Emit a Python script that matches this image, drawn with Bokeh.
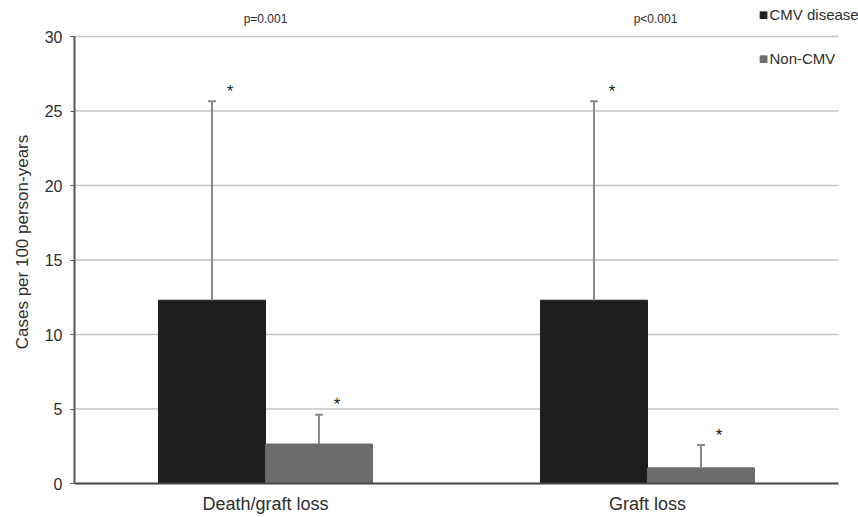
from bokeh.plotting import figure
from bokeh.models import Range1d, Label, ColumnDataSource, FixedTicker
from bokeh.core.properties import value
from bokeh.embed import file_html
from bokeh.resources import INLINE

categories = ["Death/graft loss", "Graft loss"]
cmv_values = [12.3, 12.3]
cmv_upper = [25.65, 25.65]
noncmv_values = [2.65, 1.05]
noncmv_upper = [4.62, 2.58]
p_values = ["p=0.001", "p<0.001"]
series_names = ["CMV disease", "Non-CMV"]
y_ticks = [0, 5, 10, 15, 20, 25, 30]

CMV_COLOR = "#1e1e1e"
NON_COLOR = "#6c6c6c"
ERR_COLOR = "#8a8a8a"
TEXT_COLOR = "#2e2e2e"
FONT = "Liberation Sans"
W = 0.28

n = len(categories)
centres = [i + 0.5 for i in range(n)]
y_max = y_ticks[-1]

# frame fills the figure above/right so texts there are not clipped;
# axis/grid extents are limited to the data area via bounds / segments
p = figure(x_range=Range1d(0, n * 784 / 764), y_range=Range1d(0, y_max * 483 / 447),
           width=858, height=517, output_backend="svg", toolbar_location=None,
           min_border_left=74, min_border_right=0, min_border_top=0, min_border_bottom=34)
p.outline_line_color = None
p.xgrid.grid_line_color = None
p.ygrid.grid_line_color = None

src = ColumnDataSource(dict(xc=centres,
                            x_cmv=[c - W / 2 for c in centres],
                            x_non=[c + W / 2 for c in centres],
                            cmv=cmv_values, cmv_up=cmv_upper,
                            non=noncmv_values, non_up=noncmv_upper))

# horizontal gridlines across the category area
grid_src = ColumnDataSource(dict(y=y_ticks[1:], x0=[0] * (len(y_ticks) - 1),
                                 x1=[n] * (len(y_ticks) - 1)))
p.segment(x0="x0", x1="x1", y0="y", y1="y", source=grid_src,
          line_color="#c4c4c4", line_width=1.5)

# bars
p.vbar(x="x_cmv", top="cmv", width=W, source=src, fill_color=CMV_COLOR, line_color=CMV_COLOR)
p.vbar(x="x_non", top="non", width=W, source=src, fill_color=NON_COLOR, line_color=NON_COLOR)

# error bars and asterisks
for xs, v, up in [("x_cmv", "cmv", "cmv_up"), ("x_non", "non", "non_up")]:
    p.segment(x0=xs, y0=v, x1=xs, y1=up, source=src, line_color=ERR_COLOR, line_width=2)
    p.scatter(x=xs, y=up, marker="dash", size=8, line_color=ERR_COLOR, line_width=2, source=src)
    p.text(x=xs, y=up, text=value("*"), source=src, x_offset=18, y_offset=-10,
           text_align="center", text_baseline="middle", text_font=value(FONT),
           text_font_size="17px", text_color="#1a1a1a")

# p-values above the chart
for cx, pv, xo in zip(centres, p_values, [0, 8]):
    p.add_layout(Label(x=cx, y=y_max, x_offset=xo, y_offset=18, text=pv,
                       text_align="center", text_baseline="middle",
                       text_font=FONT, text_font_size="12px", text_color=TEXT_COLOR))

# legend (upper right)
for name, col, yo in zip(series_names, [CMV_COLOR, NON_COLOR], [22, -22]):
    p.add_layout(Label(x=centres[-1], y=y_max, x_offset=116, y_offset=yo, text="■",
                       text_align="center", text_baseline="middle",
                       text_font="DejaVu Sans", text_font_size="10px", text_color=col))
    p.add_layout(Label(x=centres[-1], y=y_max, x_offset=122, y_offset=yo, text=name,
                       text_align="left", text_baseline="middle",
                       text_font=FONT, text_font_size="15px", text_color=TEXT_COLOR))

# y axis
p.yaxis.bounds = (0, y_max)
p.yaxis.ticker = FixedTicker(ticks=y_ticks)
p.yaxis.axis_label = "Cases per 100 person-years"
p.yaxis.axis_label_text_font = FONT
p.yaxis.axis_label_text_font_size = "17px"
p.yaxis.axis_label_text_font_style = "normal"
p.yaxis.axis_label_text_color = TEXT_COLOR
p.yaxis.axis_label_standoff = 10
p.yaxis.axis_line_color = "#555555"
p.yaxis.axis_line_width = 2
p.yaxis.major_tick_out = 4
p.yaxis.major_tick_in = 0
p.yaxis.major_tick_line_color = "#555555"
p.yaxis.minor_tick_line_color = None
p.yaxis.major_label_standoff = 8
p.yaxis.major_label_text_font = FONT
p.yaxis.major_label_text_font_size = "16px"
p.yaxis.major_label_text_color = TEXT_COLOR

# x axis with category labels
p.xaxis.bounds = (0, n)
p.xaxis.ticker = FixedTicker(ticks=centres)
p.xaxis.major_label_overrides = {c: lab for c, lab in zip(centres, categories)}
p.xaxis.axis_line_color = "#444444"
p.xaxis.axis_line_width = 2
p.xaxis.major_tick_line_color = None
p.xaxis.minor_tick_line_color = None
p.xaxis.major_tick_out = 0
p.xaxis.major_tick_in = 0
p.xaxis.major_label_standoff = 10
p.xaxis.major_label_text_font = FONT
p.xaxis.major_label_text_font_size = "18px"
p.xaxis.major_label_text_color = TEXT_COLOR

open("out.html", "w").write(file_html(p, INLINE))
